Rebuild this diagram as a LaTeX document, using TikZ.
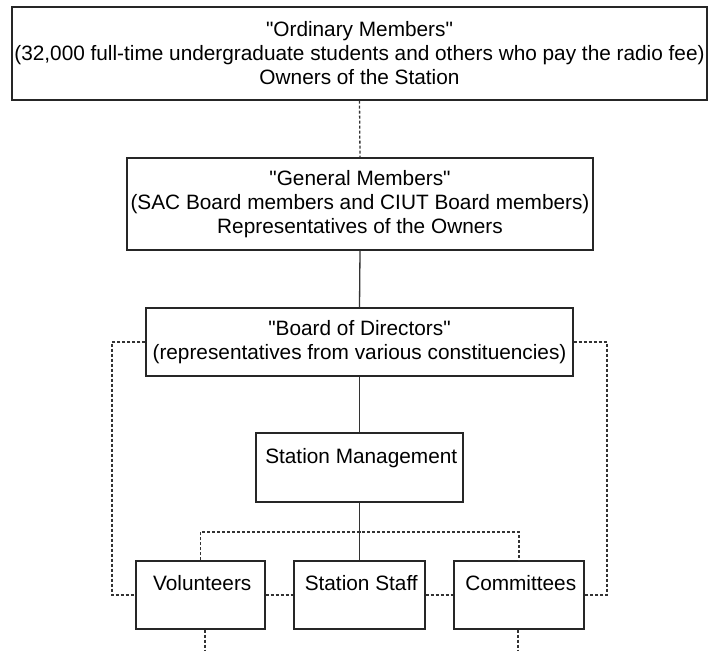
\documentclass[tikz,border=0pt]{standalone}
\usepackage{fontspec}
\setmainfont{Liberation Sans}[Ligatures=TeXOff]
\usetikzlibrary{shadows}
\begin{document}
\begin{tikzpicture}[x=1pt,y=-1pt,
  box/.style={draw=black!85, line width=1.2pt, fill=white, inner xsep=2pt, inner ysep=0pt,
    align=center, font=\fontsize{20.8}{24}\selectfont},
  solidline/.style={draw=black!80, line width=1.3pt},
  dashline/.style={draw=black!80, line width=1.3pt, dash pattern=on 3pt off 2pt}]
\useasboundingbox (0,0) rectangle (711,650);
\node[box, minimum width=695pt, minimum height=93pt,
  drop shadow={shadow xshift=1.2pt, shadow yshift=-1.2pt, fill=black!60, opacity=1}] (ord) at (359.5,53.5)
  {"Ordinary Members"\\(32,000 full-time undergraduate students and others who pay the radio fee)\\Owners of the Station};
\node[box, minimum width=466pt, minimum height=92pt] (gen) at (360,204)
  {"General Members"\\(SAC Board members and CIUT Board members)\\Representatives of the Owners};
\node[box, minimum width=427pt, minimum height=68pt] (board) at (359.5,342)
  {"Board of Directors"\\(representatives from various constituencies)};
\node[box, minimum width=207pt, minimum height=69pt] (mgmt) at (359.5,467.5)
  {\,Station Management\\\mbox{}};
\node[box, minimum width=129pt, minimum height=68pt] (vol) at (200.5,595)
  {\,Volunteers\\\mbox{}};
\node[box, minimum width=131pt, minimum height=68pt] (staff) at (359.5,595)
  {\,Station Staff\\\mbox{}};
\node[box, minimum width=130pt, minimum height=68pt] (comm) at (519,595)
  {\,Committees\\\mbox{}};
\coordinate (lft) at (112,595);
\coordinate (rgt) at (607,595);
\coordinate (bus) at (360,532);
\coordinate (vb) at (205,650);
\coordinate (cb) at (518,650);
\draw[dashline] (ord.south) -- (gen.north);
\draw[solidline] (gen.south) -- (board.north);
\draw[solidline] (board.south) -- (mgmt.north);
\draw[solidline] (mgmt.south) -- (staff.north);
\draw[dashline] (board.west) -| (lft) -- (vol.west);
\draw[dashline] (board.east) -| (rgt) -- (comm.east);
\draw[dashline] (vol.east) -- (staff.west);
\draw[dashline] (staff.east) -- (comm.west);
\draw[dashline] (vol.north) |- (bus) -| (comm.north);
\draw[dashline] (vb |- vol.south) -- (vb);
\draw[dashline] (cb |- comm.south) -- (cb);
\end{tikzpicture}
\end{document}
